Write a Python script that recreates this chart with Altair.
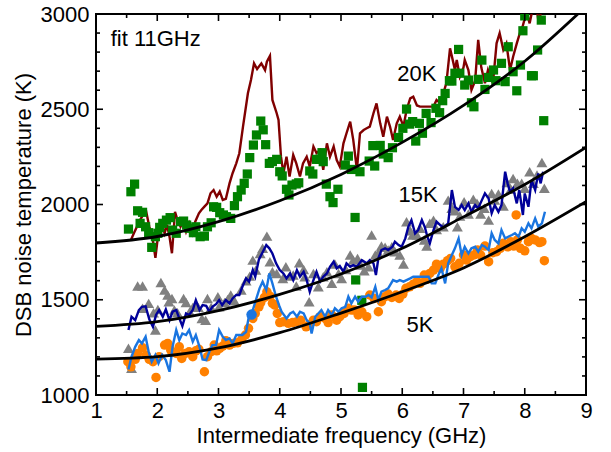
import altair as alt
import pandas as pd

# ---------------- data ----------------
# 20 K, measured (squares)
sq20_x = [1.53, 1.57, 1.63, 1.68, 1.72, 1.76, 1.81, 1.86, 1.91, 1.97, 2.01, 2.04, 2.09, 2.15, 2.21, 2.25,
          2.31, 2.38, 2.43, 2.48, 2.52, 2.59, 2.63, 2.70, 2.77, 2.82, 2.88, 2.92, 2.97, 3.02, 3.08, 3.13,
          3.20, 3.26, 3.31, 3.37, 3.42, 3.47, 3.51, 3.57, 3.62, 3.69, 3.73, 3.77, 3.83, 3.88, 3.95, 4.00,
          4.04, 4.11, 4.15, 4.20, 4.27, 4.31, 4.49, 4.54, 4.60, 4.65, 4.69, 4.71, 4.76, 4.82, 4.87, 4.95,
          5.07, 5.12, 5.17, 5.23, 5.24, 5.35, 5.34, 5.31, 5.46, 5.52, 5.55, 5.64, 5.69, 5.77, 5.84, 5.94,
          6.01, 6.07, 6.12, 6.17, 6.22, 6.28, 6.33, 6.39, 6.47, 6.55, 6.61, 6.66, 6.70, 6.77, 6.81, 6.86,
          6.92, 6.94, 7.02, 7.08, 7.13, 7.17, 7.24, 7.30, 7.35, 7.41, 7.49, 7.53, 7.62, 7.68, 7.73, 7.81,
          7.87, 7.93, 7.97, 8.00, 8.11, 8.14, 8.21, 8.27, 8.31]
sq20_y = [1871, 2067, 2107, 1967, 1901, 1959, 1883, 1852, 1775, 1831, 1849, 1880, 1901, 1918, 1931, 1866,
          1849, 1910, 1913, 1892, 1875, 1852, 1883, 1831, 1834, 1883, 1904, 1988, 1985, 1957, 1945, 1936,
          1927, 1994, 2041, 2076, 2111, 2160, 2246, 2312, 2365, 2438, 2392, 2314, 2216, 2225, 2237, 2172,
          2150, 2080, 2050, 2102, 2108, 2114, 2176, 2160, 2237, 2237, 2272, 2225, 2107, 2041, 2010, 2080,
          2207, 2254, 2184, 1932, 1604, 1040, 1497, 2172, 2228, 2309, 2202, 2310, 2265, 2246, 2298, 2352,
          2400, 2501, 2422, 2435, 2333, 2426, 2374, 2478, 2430, 2505, 2482, 2545, 2583, 2650, 2648, 2689,
          2814, 2689, 2627, 2653, 2534, 2513, 2657, 2758, 2604, 2667, 2706, 2650, 2741, 2645, 2828, 2697,
          2597, 2732, 2912, 2990, 2676, 2676, 2811, 2968, 2440]

# 20 K, measured (line)
ln20_x = [1.57, 1.62, 1.67, 1.72, 1.77, 1.82, 1.87, 1.92, 1.97, 2.03, 2.08, 2.12, 2.16, 2.20, 2.24, 2.29,
          2.33, 2.38, 2.42, 2.47, 2.52, 2.57, 2.62, 2.68, 2.72, 2.77, 2.82, 2.87, 2.92, 2.97, 3.02, 3.07,
          3.12, 3.18, 3.23, 3.29, 3.34, 3.40, 3.48, 3.53, 3.58, 3.63, 3.70, 3.76, 3.79, 3.84, 3.88, 3.95,
          3.98, 4.02, 4.06, 4.11, 4.16, 4.22, 4.27, 4.33, 4.38, 4.44, 4.49, 4.55, 4.60, 4.66, 4.71, 4.77,
          4.82, 4.88, 4.93, 4.98, 5.04, 5.09, 5.15, 5.20, 5.26, 5.31, 5.37, 5.42, 5.47, 5.53, 5.58, 5.64,
          5.69, 5.75, 5.80, 5.85, 5.91, 5.96, 6.02, 6.07, 6.13, 6.18, 6.24, 6.29, 6.35, 6.40, 6.45, 6.51,
          6.56, 6.62, 6.67, 6.72, 6.78, 6.83, 6.86, 6.89, 6.94, 7.00, 7.02, 7.08, 7.13, 7.19, 7.24, 7.29,
          7.35, 7.40, 7.48, 7.54, 7.59, 7.65, 7.70, 7.76, 7.81, 7.87, 7.92, 7.97, 8.03, 8.08, 8.13, 8.18,
          8.23, 8.28]
ln20_y = [1814, 1850, 1885, 1919, 1945, 1962, 1884, 1831, 1720, 1884, 1893, 1849, 1893, 1831, 1744, 1962,
          1919, 1884, 1910, 1857, 1901, 1849, 1910, 1954, 1971, 1989, 2006, 2059, 2076, 2041, 2068, 2024,
          2030, 2111, 2164, 2216, 2269, 2409, 2584, 2654, 2741, 2711, 2741, 2706, 2750, 2780, 2549, 2479,
          2444, 2251, 2164, 2251, 2147, 2260, 2216, 2147, 2216, 2251, 2199, 2304, 2270, 2286, 2182, 2321,
          2251, 2304, 2233, 2199, 2321, 2374, 2435, 2339, 2182, 2374, 2391, 2400, 2409, 2479, 2531, 2426,
          2356, 2461, 2409, 2339, 2426, 2461, 2409, 2496, 2557, 2566, 2520, 2514, 2514, 2514, 2514, 2514,
          2549, 2531, 2584, 2636, 2820, 2750, 2706, 2759, 2671, 2720, 2759, 2706, 2601, 2650, 2864, 2720,
          2636, 2706, 2636, 2846, 2899, 2812, 2846, 2706, 2776, 2846, 2899, 2940, 3010, 2951, 3030, 3060,
          2950, 3040]

# 15 K, measured (triangles)
tr15_x = [1.53, 1.58, 1.68, 1.76, 1.76, 1.86, 1.94, 1.97, 2.01, 2.06, 2.12, 2.17, 2.19, 2.24, 2.28, 2.33,
          2.43, 2.47, 2.53, 2.58, 2.62, 2.67, 2.73, 2.79, 2.82, 2.88, 2.99, 3.01, 3.10, 3.15, 3.20, 3.26,
          3.37, 3.45, 3.51, 3.56, 3.61, 3.68, 3.72, 3.79, 3.84, 3.88, 3.95, 4.05, 4.10, 4.16, 4.22, 4.27,
          4.32, 4.39, 4.41, 4.48, 4.55, 4.63, 4.71, 4.77, 4.85, 4.90, 4.96, 5.01, 5.08, 5.15, 5.20, 5.27,
          5.32, 5.38, 5.45, 5.50, 5.56, 5.61, 5.66, 5.72, 5.77, 5.83, 5.88, 5.96, 6.02, 6.07, 6.13, 6.17,
          6.24, 6.29, 6.36, 6.40, 6.45, 6.51, 6.56, 6.67, 6.75, 6.81, 6.86, 6.90, 6.94, 7.01, 7.08, 7.16,
          7.22, 7.28, 7.34, 7.41, 7.46, 7.51, 7.57, 7.65, 7.71, 7.77, 7.81, 7.88, 7.95, 8.00, 8.08, 8.14,
          8.20, 8.28, 8.32]
tr15_y = [1245, 1140, 1572, 1572, 1455, 1481, 1432, 1341, 1449, 1590, 1551, 1525, 1490, 1507, 1446, 1432,
          1507, 1485, 1437, 1460, 1472, 1460, 1402, 1393, 1507, 1460, 1516, 1463, 1485, 1502, 1525, 1495,
          1551, 1600, 1624, 1708, 1656, 1743, 1770, 1834, 1700, 1647, 1638, 1612, 1673, 1624, 1630, 1572,
          1694, 1659, 1621, 1490, 1638, 1568, 1621, 1647, 1586, 1688, 1638, 1612, 1659, 1735, 1708, 1717,
          1682, 1652, 1673, 1840, 1735, 1747, 1782, 1775, 1761, 1778, 1752, 1735, 1688, 1910, 1862, 1840,
          1840, 1875, 1814, 1782, 1901, 1918, 1869, 1883, 2023, 1980, 1967, 1883, 1940, 2015, 1950, 2027,
          2006, 1950, 1980, 1918, 2058, 2023, 2055, 1992, 2115, 2080, 2137, 2111, 2111, 2085, 2172, 2111,
          2155, 2220, 2085]

# 15 K, measured (line)
ln15_x = [1.53, 1.58, 1.64, 1.70, 1.75, 1.81, 1.87, 1.93, 1.98, 2.03, 2.09, 2.14, 2.20, 2.25, 2.31, 2.36,
          2.41, 2.47, 2.52, 2.58, 2.63, 2.69, 2.74, 2.80, 2.85, 2.90, 2.96, 3.01, 3.06, 3.12, 3.18, 3.23,
          3.29, 3.34, 3.39, 3.45, 3.50, 3.56, 3.60, 3.66, 3.71, 3.78, 3.83, 3.88, 3.94, 4.00, 4.06, 4.11,
          4.17, 4.22, 4.28, 4.33, 4.39, 4.44, 4.49, 4.55, 4.60, 4.66, 4.71, 4.77, 4.82, 4.88, 4.93, 4.98,
          5.04, 5.09, 5.15, 5.20, 5.26, 5.34, 5.42, 5.47, 5.53, 5.57, 5.61, 5.66, 5.72, 5.77, 5.84, 5.88,
          5.94, 5.99, 6.05, 6.10, 6.15, 6.21, 6.26, 6.32, 6.37, 6.41, 6.45, 6.51, 6.56, 6.62, 6.67, 6.75,
          6.81, 6.86, 6.92, 6.97, 7.02, 7.08, 7.13, 7.19, 7.24, 7.30, 7.35, 7.41, 7.46, 7.51, 7.57, 7.62,
          7.68, 7.72, 7.76, 7.81, 7.87, 7.91, 7.97, 8.00, 8.06, 8.11, 8.17, 8.22, 8.26, 8.30]
ln15_y = [1341, 1411, 1393, 1446, 1463, 1466, 1397, 1358, 1420, 1446, 1411, 1449, 1393, 1437, 1446, 1402,
          1362, 1428, 1420, 1446, 1498, 1446, 1472, 1468, 1437, 1463, 1477, 1498, 1472, 1498, 1481, 1507,
          1525, 1525, 1568, 1612, 1595, 1656, 1621, 1712, 1743, 1787, 1770, 1743, 1691, 1656, 1638, 1612,
          1638, 1603, 1656, 1621, 1647, 1603, 1542, 1603, 1647, 1595, 1621, 1638, 1673, 1700, 1665, 1677,
          1647, 1691, 1673, 1682, 1673, 1708, 1691, 1708, 1691, 1630, 1717, 1761, 1770, 1761, 1778, 1805,
          1787, 1778, 1822, 1884, 1918, 1849, 1866, 1918, 1880, 1831, 1796, 1866, 1910, 1892, 1880, 1901,
          2076, 1988, 1971, 1997, 1971, 2006, 1962, 1997, 1980, 2023, 2058, 2032, 1954, 1997, 1962, 1997,
          2172, 2111, 2067, 2085, 2006, 2076, 1945, 2058, 1988, 2128, 2076, 2163, 2111, 2172]

# 5 K, measured (circles)
ci5_x = [1.52, 1.57, 1.64, 1.68, 1.76, 1.82, 1.87, 1.93, 1.98, 2.03, 2.12, 2.17, 2.22, 2.31, 2.36, 2.40,
         2.46, 2.52, 2.58, 2.63, 2.68, 2.77, 2.82, 2.88, 2.93, 2.97, 3.02, 3.07, 3.12, 3.18, 3.24, 3.31,
         3.38, 3.44, 3.49, 3.56, 3.60, 3.66, 3.69, 3.75, 3.79, 3.84, 3.88, 3.92, 3.96, 4.00, 4.06, 4.14,
         4.21, 4.28, 4.34, 4.43, 4.48, 4.55, 4.60, 4.66, 4.74, 4.79, 4.85, 4.93, 4.98, 5.05, 5.12, 5.17,
         5.22, 5.28, 5.34, 5.42, 5.47, 5.54, 5.61, 5.66, 5.72, 5.77, 5.83, 5.90, 5.95, 6.01, 6.06, 6.12,
         6.18, 6.24, 6.29, 6.36, 6.40, 6.45, 6.51, 6.56, 6.62, 6.67, 6.74, 6.79, 6.86, 6.93, 7.00, 7.05,
         7.11, 7.17, 7.23, 7.28, 7.35, 7.41, 7.48, 7.54, 7.60, 7.65, 7.72, 7.77, 7.82, 7.86, 7.88, 7.93,
         8.00, 8.06, 8.11, 8.17, 8.24, 8.28, 8.32]
ci5_y = [1175, 1148, 1187, 1218, 1248, 1210, 1187, 1175, 1092, 1201, 1262, 1271, 1236, 1218, 1253, 1192,
         1218, 1227, 1201, 1232, 1240, 1122, 1201, 1227, 1262, 1232, 1245, 1257, 1285, 1262, 1271, 1274,
         1292, 1315, 1350, 1402, 1428, 1463, 1485, 1512, 1542, 1519, 1481, 1472, 1428, 1380, 1385, 1376,
         1380, 1385, 1393, 1358, 1370, 1393, 1385, 1411, 1402, 1380, 1420, 1393, 1411, 1428, 1455, 1446,
         1446, 1420, 1437, 1411, 1525, 1507, 1437, 1490, 1516, 1530, 1512, 1525, 1507, 1530, 1560, 1568,
         1582, 1595, 1586, 1630, 1607, 1638, 1656, 1687, 1665, 1687, 1705, 1717, 1673, 1691, 1735, 1708,
         1726, 1735, 1761, 1735, 1782, 1700, 1747, 1752, 1770, 1796, 1778, 1805, 1782, 1945, 1814, 1770,
         1757, 1805, 1822, 1814, 1800, 1805, 1705]

# 5 K, measured (line)
ln5_x = [1.53, 1.58, 1.64, 1.70, 1.75, 1.81, 1.86, 1.91, 1.97, 2.02, 2.08, 2.14, 2.20, 2.25, 2.31, 2.36,
         2.41, 2.47, 2.52, 2.58, 2.63, 2.69, 2.74, 2.80, 2.85, 2.90, 2.96, 3.01, 3.07, 3.12, 3.18, 3.23,
         3.29, 3.34, 3.39, 3.45, 3.50, 3.56, 3.61, 3.67, 3.72, 3.78, 3.83, 3.88, 3.94, 3.99, 4.03, 4.11,
         4.17, 4.22, 4.28, 4.33, 4.39, 4.44, 4.49, 4.52, 4.58, 4.63, 4.68, 4.74, 4.79, 4.85, 4.90, 4.96,
         5.01, 5.07, 5.12, 5.17, 5.23, 5.28, 5.34, 5.40, 5.45, 5.50, 5.56, 5.61, 5.66, 5.72, 5.77, 5.85,
         5.91, 5.96, 6.02, 6.07, 6.13, 6.18, 6.26, 6.34, 6.43, 6.48, 6.54, 6.59, 6.64, 6.70, 6.75, 6.81,
         6.86, 6.92, 6.97, 7.02, 7.08, 7.13, 7.19, 7.24, 7.30, 7.35, 7.41, 7.46, 7.51, 7.57, 7.62, 7.68,
         7.73, 7.79, 7.84, 7.90, 7.95, 8.00, 8.06, 8.11, 8.17, 8.22, 8.28, 8.33]
ln5_y = [1134, 1201, 1253, 1288, 1271, 1306, 1227, 1175, 1210, 1166, 1210, 1183, 1122, 1253, 1341, 1288,
         1323, 1315, 1341, 1280, 1315, 1253, 1187, 1183, 1227, 1262, 1262, 1341, 1306, 1288, 1297, 1271,
         1315, 1315, 1315, 1332, 1420, 1446, 1498, 1560, 1595, 1551, 1638, 1586, 1516, 1470, 1437, 1402,
         1428, 1437, 1411, 1437, 1428, 1393, 1376, 1323, 1411, 1428, 1446, 1411, 1446, 1420, 1455, 1437,
         1455, 1463, 1516, 1481, 1516, 1490, 1516, 1516, 1525, 1512, 1568, 1498, 1542, 1551, 1560, 1603,
         1595, 1603, 1595, 1603, 1612, 1621, 1621, 1621, 1621, 1586, 1586, 1630, 1665, 1586, 1691, 1735,
         1770, 1822, 1735, 1778, 1743, 1770, 1778, 1752, 1787, 1778, 1761, 1849, 1814, 1796, 1866, 1822,
         1831, 1840, 1849, 1831, 1875, 1857, 1901, 1875, 1927, 1884, 1901, 1962]
dot5_x = [3.54]
dot5_y = [1422]

# fitted curves (read at whole GHz)
fit_x = [1, 2, 3, 4, 5, 6, 7, 8, 9]
fit20_y = [1798, 1832, 1910, 2020, 2158, 2326, 2520, 2752, 3040]
fit15_y = [1360, 1385, 1443, 1528, 1635, 1770, 1935, 2105, 2300]
fit5_y = [1188, 1201, 1247, 1327, 1430, 1542, 1667, 1831, 2015]

# annotations
label_text = ["fit 11GHz", "20K", "15K", "5K"]
label_x = [1.24, 6.24, 6.26, 6.29]
label_y = [2869, 2685, 2050, 1367]

# axis ticks
x_major = [1, 2, 3, 4, 5, 6, 7, 8, 9]
x_minor = [1.5, 2.5, 3.5, 4.5, 5.5, 6.5, 7.5, 8.5]
y_major = [1000, 1500, 2000, 2500, 3000]
y_minor = [v for v in range(1100, 3000, 100) if v % 500 != 0]

# ---------------- chart ----------------
W, H = 490, 381
FONT = "Liberation Sans"
FS = 22

xscale = alt.Scale(domain=[1, 9], nice=False, zero=False)
yscale = alt.Scale(domain=[1000, 3000], nice=False, zero=False)

x_enc = alt.X("x:Q", scale=xscale,
              axis=alt.Axis(values=x_major, ticks=False, tickSize=0, domain=False, grid=False,
                            labelFontSize=FS, labelFont=FONT, labelColor="black", labelPadding=5,
                            titleFontSize=FS, titleFont=FONT, titleColor="black", titleFontWeight="normal",
                            titlePadding=4, format="d", labelFlush=False),
              title="Intermediate frequency (GHz)")
y_enc = alt.Y("y:Q", scale=yscale,
              axis=alt.Axis(values=y_major, ticks=False, tickSize=0, domain=False, grid=False,
                            labelFontSize=FS, labelFont=FONT, labelColor="black", labelPadding=7,
                            titleFontSize=FS, titleFont=FONT, titleColor="black", titleFontWeight="normal",
                            titlePadding=5, format="d", labelFlush=False),
              title="DSB noise temperature (K)")


def frame(xs, ys):
    return pd.DataFrame({"x": xs, "y": ys})


LW = 2.4
red_line = alt.Chart(frame(ln20_x, ln20_y)).mark_line(color="#800000", strokeWidth=LW, clip=True).encode(x=x_enc, y=y_enc)
green_sq = alt.Chart(frame(sq20_x, sq20_y)).mark_point(shape="square", filled=True, size=85, color="#008000", opacity=1, clip=True).encode(x=x_enc, y=y_enc)
gray_tri = alt.Chart(frame(tr15_x, tr15_y)).mark_point(shape="triangle-up", filled=True, size=120, color="#808080", opacity=1, clip=True).encode(x=x_enc, y=y_enc)
navy_line = alt.Chart(frame(ln15_x, ln15_y)).mark_line(color="#000099", strokeWidth=LW, clip=True).encode(x=x_enc, y=y_enc)
orange_ci = alt.Chart(frame(ci5_x, ci5_y)).mark_circle(size=90, color="#FF8000", opacity=1, clip=True).encode(x=x_enc, y=y_enc)
blue_line = alt.Chart(frame(ln5_x, ln5_y)).mark_line(color="#1A75E0", strokeWidth=LW, clip=True).encode(x=x_enc, y=y_enc)
blue_dot = alt.Chart(frame(dot5_x, dot5_y)).mark_circle(size=110, color="#1A75E0", opacity=1).encode(x=x_enc, y=y_enc)

fits = []
for fy in (fit20_y, fit15_y, fit5_y):
    fits.append(alt.Chart(frame(fit_x, fy)).mark_line(color="black", strokeWidth=2.8, interpolate="monotone", clip=True)
                .encode(x=x_enc, y=y_enc))

lab_left = alt.Chart(pd.DataFrame({"t": label_text[:1], "x": label_x[:1], "y": label_y[:1]})).mark_text(
    font=FONT, fontSize=FS, color="black", baseline="middle", align="left").encode(x=x_enc, y=y_enc, text="t:N")
lab_center = alt.Chart(pd.DataFrame({"t": label_text[1:], "x": label_x[1:], "y": label_y[1:]})).mark_text(
    font=FONT, fontSize=FS, color="black", baseline="middle", align="center").encode(x=x_enc, y=y_enc, text="t:N")


# inward ticks on all four sides
def xticks(vals, length):
    d = pd.DataFrame({"x": vals})
    bottom = alt.Chart(d).mark_rule(color="black", strokeWidth=1.6).encode(
        x=x_enc, y=alt.value(H), y2=alt.value(H - length))
    top = alt.Chart(d).mark_rule(color="black", strokeWidth=1.6).encode(
        x=x_enc, y=alt.value(0), y2=alt.value(length))
    return [bottom, top]


def yticks(vals, length):
    d = pd.DataFrame({"y": vals})
    left = alt.Chart(d).mark_rule(color="black", strokeWidth=1.6).encode(
        y=y_enc, x=alt.value(0), x2=alt.value(length))
    right = alt.Chart(d).mark_rule(color="black", strokeWidth=1.6).encode(
        y=y_enc, x=alt.value(W), x2=alt.value(W - length))
    return [left, right]


tick_layers = xticks(x_major, 7) + xticks(x_minor, 4) + yticks(y_major, 7) + yticks(y_minor, 4)

chart = alt.layer(
    red_line, green_sq, gray_tri, navy_line, orange_ci, blue_line, blue_dot,
    *fits, lab_left, lab_center, *tick_layers
).properties(
    width=W, height=H,
    autosize=alt.AutoSizeParams(type="none"),
    padding={"left": 96, "top": 14, "right": 25, "bottom": 57},
    background="white",
).configure_view(
    stroke="black", strokeWidth=2
)

chart.save("out.html", embed_options={"renderer": "svg", "actions": False})
